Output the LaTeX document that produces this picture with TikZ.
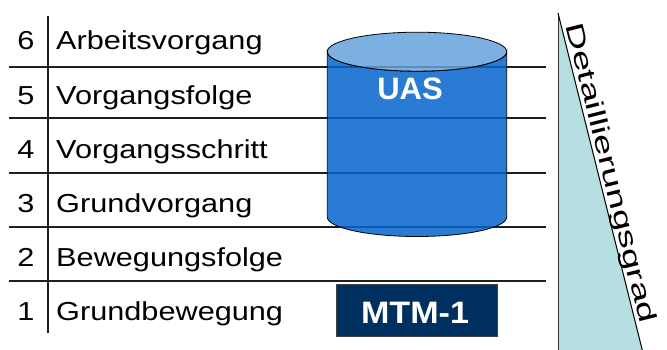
\documentclass[tikz,border=0pt]{standalone}
\usepackage{fontspec}
\setmainfont{Liberation Sans}
\definecolor{uasbody}{RGB}{4,100,204}
\definecolor{uastop}{RGB}{100,162,218}
\definecolor{mtmnavy}{RGB}{0,48,96}
\definecolor{wedgefill}{RGB}{183,223,225}
\begin{document}
\begin{tikzpicture}[x=1pt,y=1pt,
  rule/.style={line width=1.2pt, draw=black!88},
  num/.style={anchor=base, inner sep=0pt, font=\fontsize{26}{30}\selectfont, xscale=1.18},
  lvl/.style={anchor=base west, inner sep=0pt, font=\fontsize{26}{30}\selectfont, xscale=1.18},
  cyl/.style={draw=black, line width=0.8pt, fill opacity=0.85, draw opacity=1}]
\useasboundingbox (0,0) rectangle (667,349);
\clip (0,0) rectangle (667,349);

% table rules
\foreach \yy in {282,231,176,122,68}
  \draw[rule] (9,\yy) -- (546,\yy);
\draw[rule] (48,16) -- (48,333);

% level numbers and names
\node[num] (n6) at (26,299) {6};
\node[num] (n5) at (26,245) {5};
\node[num] (n4) at (26,191) {4};
\node[num] (n3) at (26,137) {3};
\node[num] (n2) at (26,83)  {2};
\node[num] (n1) at (26,29)  {1};
\node[lvl] (l6) at (56,299) {Arbeitsvorgang};
\node[lvl] (l5) at (56,245) {Vorgangsfolge};
\node[lvl] (l4) at (56,191) {Vorgangsschritt};
\node[lvl] (l3) at (56,137) {Grundvorgang};
\node[lvl] (l2) at (56,83)  {Bewegungsfolge};
\node[lvl] (l1) at (56,29)  {Grundbewegung};

% UAS cylinder (slightly translucent so the rules show through)
\path[cyl, fill=uasbody] (327.3,297.3) -- (327.3,132)
  arc[start angle=180, end angle=360, x radius=89.7, y radius=19.5]
  -- (506.7,297.3)
  arc[start angle=0, end angle=-180, x radius=89.7, y radius=19.5] -- cycle;
\path[cyl, fill=uastop] (417,297.3) ellipse [x radius=89.7, y radius=19.5];
\node[anchor=base, inner sep=0pt, text=white, font=\fontsize{31}{34}\selectfont\bfseries]
  (uas) at (410,249.5) {UAS};

% MTM-1 box
\node[draw=black!75, line width=1pt, fill=mtmnavy, minimum width=160.6pt, minimum height=52pt,
  inner sep=0pt] (mtmbox) at (417,39) {};
\node[anchor=base, inner sep=0pt, text=white, font=\fontsize{31}{34}\selectfont\bfseries, xscale=1.1]
  (mtm) at (415,25.7) {MTM-1};

% wedge for the degree of detail
\coordinate (wtop) at (558,336);
\coordinate (wbl) at (558,-10);
\coordinate (wbr) at (644.5,-10);
\fill[wedgefill] (wtop) -- (wbl) -- (wbr) -- cycle;
\draw[line width=0.9pt, black!80] (wtop) -- (wbl);
\draw[line width=1pt, black] (wtop) -- (wbr);
\node[anchor=base, inner sep=0pt, font=\fontsize{25}{28}\selectfont, rotate=-75.96, xscale=1.53]
  (grad) at (603,174) {Detaillierungsgrad};
\end{tikzpicture}
\end{document}
